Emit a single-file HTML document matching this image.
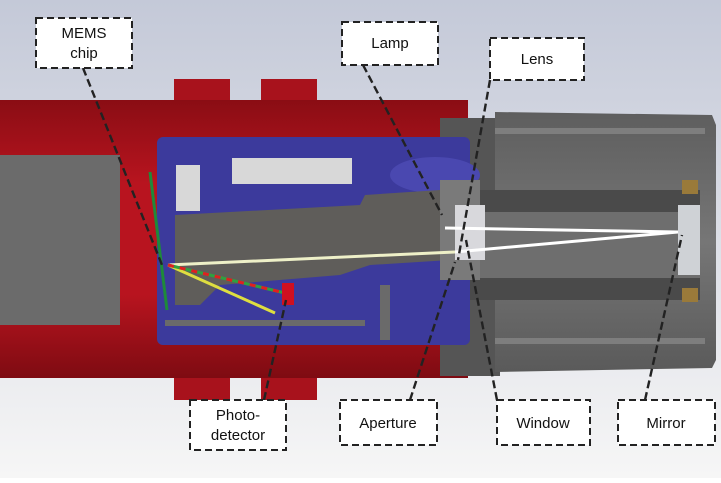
<!DOCTYPE html>
<html><head><style>
body{margin:0;width:721px;height:478px;overflow:hidden;background:#fff;font-family:"Liberation Sans",sans-serif}
</style></head><body>
<svg width="721" height="478" viewBox="0 0 721 478" xmlns="http://www.w3.org/2000/svg">
<defs>
<linearGradient id="bg" x1="0" y1="0" x2="0" y2="1"><stop offset="0" stop-color="#c4c9d8"/><stop offset="1" stop-color="#f6f6f6"/></linearGradient>
<linearGradient id="red" x1="0" y1="0" x2="0" y2="1"><stop offset="0" stop-color="#8a0d14"/><stop offset="0.3" stop-color="#b8141f"/><stop offset="0.7" stop-color="#b8141f"/><stop offset="1" stop-color="#7e0b12"/></linearGradient>
<linearGradient id="gr" x1="0" y1="0" x2="0" y2="1"><stop offset="0" stop-color="#5e5e5e"/><stop offset="0.5" stop-color="#767676"/><stop offset="1" stop-color="#5a5a5a"/></linearGradient>
</defs>
<rect width="721" height="478" fill="url(#bg)"/>
<rect x="174" y="79" width="56" height="24" fill="#a8121c"/>
<rect x="261" y="79" width="56" height="24" fill="#a8121c"/>
<rect x="174" y="376" width="56" height="24" fill="#a8121c"/>
<rect x="261" y="376" width="56" height="24" fill="#a8121c"/>
<rect x="0" y="100" width="468" height="278" fill="url(#red)"/>
<rect x="0" y="155" width="120" height="170" fill="#6b6b6b"/>
<rect x="440" y="118" width="60" height="258" fill="#555"/>
<path d="M495 112 L712 115 L716 125 L716 360 L712 368 L495 372 Z" fill="url(#gr)"/>
<rect x="495" y="128" width="210" height="6" fill="#7e7e7e"/>
<rect x="495" y="338" width="210" height="6" fill="#7e7e7e"/>
<rect x="470" y="190" width="230" height="22" fill="#4a4a4a"/>
<rect x="470" y="278" width="230" height="22" fill="#4a4a4a"/>
<rect x="480" y="212" width="210" height="66" fill="#6e6e6e"/>
<rect x="682" y="180" width="16" height="14" fill="#9a7a3a"/>
<rect x="682" y="288" width="16" height="14" fill="#9a7a3a"/>
<rect x="678" y="205" width="22" height="70" fill="#cfd2d6"/>
<rect x="157" y="137" width="313" height="208" rx="6" fill="#3c3a9c"/>
<rect x="232" y="158" width="120" height="26" fill="#d8d8d8"/>
<rect x="176" y="165" width="24" height="46" fill="#d8d8d8"/>
<ellipse cx="435" cy="175" rx="45" ry="18" fill="#4a48b0"/>
<path d="M175 215 L360 205 L365 195 L440 190 L450 260 L370 265 L340 275 L220 285 L200 305 L175 305 Z" fill="#5f5d5a"/>
<rect x="440" y="180" width="40" height="100" fill="#7a7a7a"/>
<rect x="455" y="205" width="30" height="55" fill="#d8d8dc"/>
<rect x="165" y="320" width="200" height="6" fill="#6a6a6a"/>
<rect x="380" y="285" width="10" height="55" fill="#6a6a6a"/>
<line x1="168" y1="265" x2="455" y2="252" stroke="#eef0c8" stroke-width="3"/>
<line x1="455" y1="252" x2="678" y2="232" stroke="#fff" stroke-width="3"/>
<line x1="445" y1="228" x2="678" y2="232" stroke="#fff" stroke-width="3"/>
<line x1="168" y1="265" x2="275" y2="313" stroke="#dede40" stroke-width="3"/>
<line x1="168" y1="265" x2="285" y2="293" stroke="#30a040" stroke-width="3"/>
<line x1="168" y1="265" x2="285" y2="293" stroke="#e02020" stroke-width="3" stroke-dasharray="6 6"/>
<line x1="150" y1="172" x2="167" y2="310" stroke="#1e8a3a" stroke-width="3"/>
<rect x="282" y="283" width="12" height="22" fill="#d01020"/>
<g stroke="#222" stroke-width="2.4" stroke-dasharray="8 4" fill="none">
<line x1="83" y1="68" x2="162" y2="265"/>
<line x1="363" y1="65" x2="442" y2="215"/>
<line x1="490" y1="80" x2="458" y2="260"/>
<line x1="264" y1="400" x2="286" y2="300"/>
<line x1="410" y1="400" x2="455" y2="262"/>
<line x1="497" y1="400" x2="466" y2="240"/>
<line x1="645" y1="400" x2="682" y2="235"/>
</g>
<g fill="#fff" stroke="#222" stroke-width="2" stroke-dasharray="7 4">
<rect x="36" y="18" width="96" height="50"/>
<rect x="342" y="22" width="96" height="43"/>
<rect x="490" y="38" width="94" height="42"/>
<rect x="190" y="400" width="96" height="50"/>
<rect x="340" y="400" width="97" height="45"/>
<rect x="497" y="400" width="93" height="45"/>
<rect x="618" y="400" width="97" height="45"/>
</g>
<g font-size="15" fill="#111" text-anchor="middle">
<text x="84" y="38">MEMS</text><text x="84" y="58">chip</text>
<text x="390" y="48">Lamp</text>
<text x="537" y="64">Lens</text>
<text x="238" y="420">Photo-</text><text x="238" y="440">detector</text>
<text x="388" y="428">Aperture</text>
<text x="543" y="428">Window</text>
<text x="666" y="428">Mirror</text>
</g>
</svg>
</body></html>
